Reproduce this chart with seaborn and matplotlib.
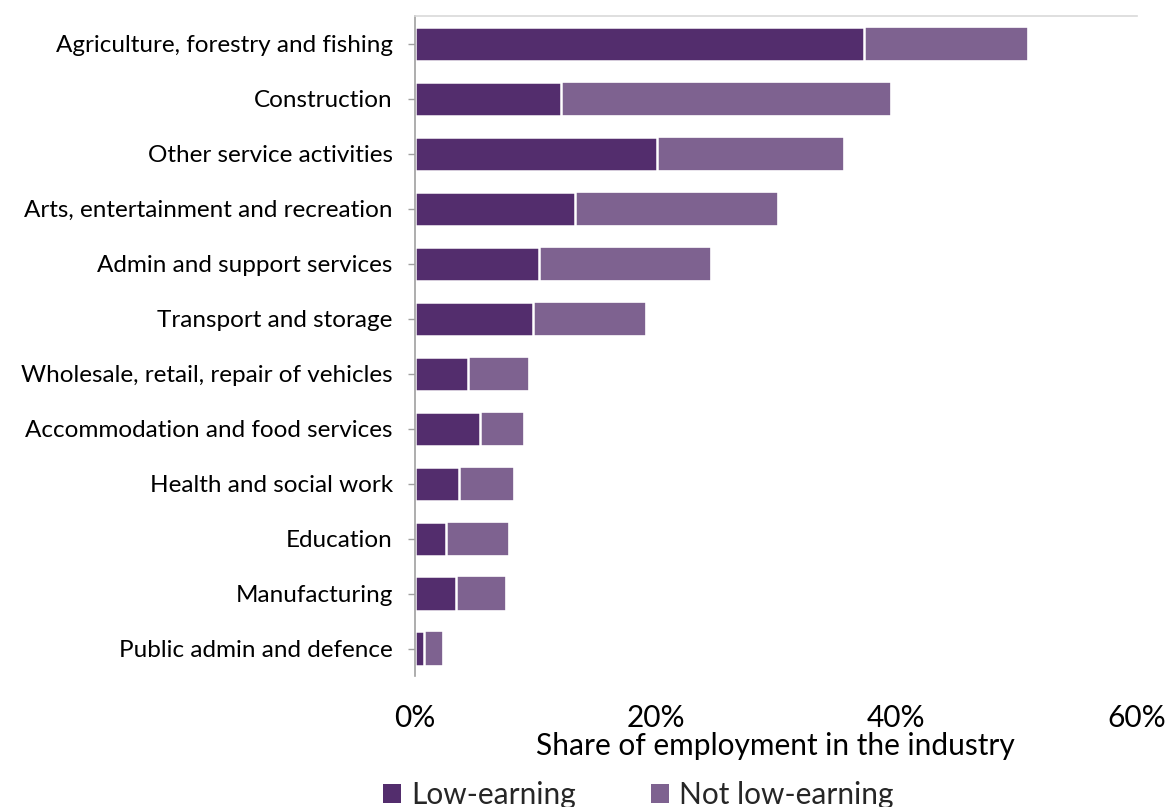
import matplotlib
matplotlib.use("Agg")
import matplotlib.pyplot as plt
import seaborn as sns
import pandas as pd
from matplotlib.patches import Patch
from matplotlib.ticker import FuncFormatter

industries = [
    "Agriculture, forestry and fishing",
    "Construction",
    "Other service activities",
    "Arts, entertainment and recreation",
    "Admin and support services",
    "Transport and storage",
    "Wholesale, retail, repair of vehicles",
    "Accommodation and food services",
    "Health and social work",
    "Education",
    "Manufacturing",
    "Public admin and defence",
]
low_earning = [37.3, 12.1, 20.1, 13.3, 10.3, 9.8, 4.4, 5.4, 3.7, 2.6, 3.4, 0.75]
not_low_earning = [13.7, 27.5, 15.6, 16.9, 14.3, 9.4, 5.1, 3.7, 4.5, 5.2, 4.2, 1.55]
series_names = ["Low-earning", "Not low-earning"]
x_ticks = [0, 20, 40, 60]

dark = "#532D6D"
light = "#7E6290"

df = pd.DataFrame({
    "industry": industries,
    "low": low_earning,
    "total": [a + b for a, b in zip(low_earning, not_low_earning)],
})

sns.set_theme(style="white")
plt.rcParams["font.family"] = ["Lato", "DejaVu Sans"]

fig = plt.figure(figsize=(11.67, 8.07), dpi=100)
ax = fig.add_axes([0.3556, 0.1623, 0.974 - 0.3556, 0.980 - 0.1623])

sns.barplot(data=df, y="industry", x="total", color=light, saturation=1,
            width=0.62, edgecolor="white", linewidth=1.2, ax=ax, orient="h")
sns.barplot(data=df, y="industry", x="low", color=dark, saturation=1,
            width=0.62, edgecolor="white", linewidth=1.8, ax=ax, orient="h")

ax.set_xlim(0, 60)
ax.set_ylim(11.5, -0.5)
ax.set_xticks(x_ticks)
ax.xaxis.set_major_formatter(FuncFormatter(lambda v, p: f"{v:.0f}%"))
ax.tick_params(axis="x", labelsize=21.5, pad=20, length=0, colors="black")
ax.tick_params(axis="y", labelsize=17.5, left=True, length=5, width=1,
               color="#A0A0A0", pad=11)
for lbl in ax.get_yticklabels():
    lbl.set_color("black")
ax.set_ylabel("")
ax.set_xlabel("Share of employment in the industry", fontsize=21.5, labelpad=0,
              color="black")

for s in ["right", "bottom"]:
    ax.spines[s].set_visible(False)
ax.spines["left"].set_color("#A0A0A0")
ax.spines["left"].set_linewidth(1.2)
ax.spines["top"].set_color("#D9D9D9")
ax.spines["top"].set_linewidth(1.2)

handles = [Patch(facecolor=dark, edgecolor="none"),
           Patch(facecolor=light, edgecolor="none")]
fig.legend(handles, series_names, loc="center", bbox_to_anchor=(0.547, 0.015),
           ncol=2, frameon=False, fontsize=21.5, handlelength=0.6,
           handleheight=0.6, handletextpad=0.35, columnspacing=2.5)

fig.savefig("out.png", dpi=100)
